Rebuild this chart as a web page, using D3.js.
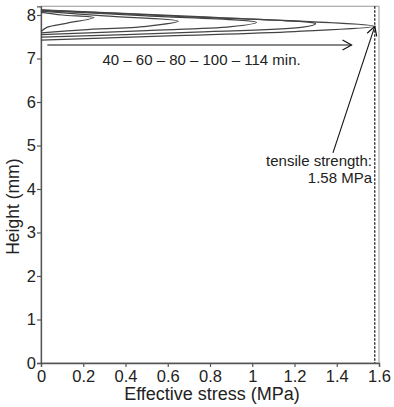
<!DOCTYPE html>
<html>
<head>
<meta charset="utf-8">
<script src="https://cdnjs.cloudflare.com/ajax/libs/d3/7.8.5/d3.min.js"></script>
<style>
  body { margin: 0; background: #fff; }
  text { font-family: "Liberation Sans", Arial, sans-serif; fill: #222; }
</style>
</head>
<body>
<div id="chart"></div>
<script>
// stress profiles (MPa) vs height (mm), one per drying time
const times = ['40', '60', '80', '100', '114'];
const stress40 = [0, 0.1, 0.25, 0.12, 0.03, 0];
const height40 = [8.06, 8.0, 7.94, 7.81, 7.72, 7.62];
const stress60 = [0, 0.3, 0.65, 0.5, 0.2, 0];
const height60 = [8.09, 7.98, 7.86, 7.74, 7.66, 7.59];
const stress80 = [0, 0.5, 1.02, 0.9, 0.5, 0];
const height80 = [8.1, 7.98, 7.83, 7.73, 7.64, 7.55];
const stress100 = [0, 0.65, 1.3, 1.24, 0.7, 0];
const height100 = [8.11, 7.97, 7.8, 7.72, 7.6, 7.49];
const stress114 = [0, 0.8, 1.58, 1.2, 0.6, 0];
const height114 = [8.12, 7.95, 7.74, 7.62, 7.52, 7.42];

const tensileStrength = 1.58;
const xTicks = [0, 0.2, 0.4, 0.6, 0.8, 1, 1.2, 1.4, 1.6];
const yTicks = [0, 1, 2, 3, 4, 5, 6, 7, 8];

const W = 394, H = 407;
const svg = d3.select('#chart').append('svg')
  .attr('width', W)
  .attr('height', H);

const x = d3.scaleLinear().domain([0, 1.6]).range([41, 379]);
const y = d3.scaleLinear().domain([0, 8.2]).range([363, 6.3]);

// frame
svg.append('rect')
  .attr('x', x(0)).attr('y', y(8.2))
  .attr('width', x(1.6) - x(0)).attr('height', y(0) - y(8.2))
  .attr('fill', 'none').attr('stroke', '#aaa').attr('stroke-width', 1.2);

const xAxis = svg.append('g')
  .attr('transform', `translate(0,${y(0)})`)
  .call(d3.axisBottom(x).tickValues(xTicks).tickSize(4).tickFormat(d3.format('')));
const yAxis = svg.append('g')
  .attr('transform', `translate(${x(0)},0)`)
  .call(d3.axisLeft(y).tickValues(yTicks).tickSize(4));

[xAxis, yAxis].forEach(a => {
  a.select('.domain').attr('stroke', '#555').attr('stroke-width', 1.3);
  a.selectAll('.tick line').attr('stroke', '#555').attr('stroke-width', 1.2);
  a.selectAll('.tick text')
    .attr('fill', '#222')
    .style('font-size', '16.5px')
    .style('font-family', '"Liberation Sans", Arial, sans-serif');
});
xAxis.selectAll('.tick text').attr('dy', '0.78em').attr('y', 6);
yAxis.selectAll('.tick text').attr('x', -5);

svg.append('text')
  .attr('x', (x(0) + x(1.6)) / 2 + 2)
  .attr('y', 400)
  .attr('text-anchor', 'middle')
  .style('font-size', '18px')
  .text('Effective stress (MPa)');

svg.append('text')
  .attr('transform', `translate(19,${(y(0) + y(8.2)) / 2 + 22}) rotate(-90)`)
  .attr('text-anchor', 'middle')
  .style('font-size', '17.5px')
  .text('Height (mm)');

// tensile strength line
svg.append('line')
  .attr('x1', x(tensileStrength)).attr('x2', x(tensileStrength))
  .attr('y1', y(8.2)).attr('y2', y(0))
  .attr('stroke', '#111').attr('stroke-width', 1.2)
  .attr('stroke-dasharray', '2.5,1.5');

// profiles
const profiles = [
  [stress40, height40], [stress60, height60], [stress80, height80],
  [stress100, height100], [stress114, height114]
].map(([s, h]) => s.map((v, i) => [v, h[i]]));

const line = d3.line()
  .x(d => x(d[0]))
  .y(d => y(d[1]))
  .curve(d3.curveCatmullRom.alpha(0.5));

svg.append('g')
  .selectAll('path')
  .data(profiles)
  .enter()
  .append('path')
  .attr('d', line)
  .attr('fill', 'none')
  .attr('stroke', '#444')
  .attr('stroke-width', 1.25);

// arrows
const defs = svg.append('defs');
defs.append('marker')
  .attr('id', 'openarrow')
  .attr('viewBox', '-10 -6 12 12')
  .attr('refX', 0)
  .attr('refY', 0)
  .attr('markerWidth', 12)
  .attr('markerHeight', 12)
  .attr('markerUnits', 'userSpaceOnUse')
  .attr('orient', 'auto')
  .append('path')
  .attr('d', 'M -9 -5 L 0 0 L -9 5')
  .attr('fill', 'none')
  .attr('stroke', '#111')
  .attr('stroke-width', 1.2);

svg.append('line')
  .attr('x1', x(0.03)).attr('y1', y(7.31))
  .attr('x2', x(1.47)).attr('y2', y(7.31))
  .attr('stroke', '#111').attr('stroke-width', 1.1)
  .attr('marker-end', 'url(#openarrow)');

svg.append('text')
  .attr('x', x(0.76))
  .attr('y', y(6.85))
  .attr('text-anchor', 'middle')
  .style('font-size', '15px')
  .text(times.join(' \u2013 ') + ' min.');

svg.append('line')
  .attr('x1', x(1.382)).attr('y1', y(4.83))
  .attr('x2', x(tensileStrength)).attr('y2', y(7.74))
  .attr('stroke', '#111').attr('stroke-width', 1.1)
  .attr('marker-end', 'url(#openarrow)');

svg.append('text')
  .attr('x', x(1.567))
  .attr('y', y(4.53))
  .attr('text-anchor', 'end')
  .style('font-size', '15px')
  .text('tensile strength:');
svg.append('text')
  .attr('x', x(1.567))
  .attr('y', y(4.14))
  .attr('text-anchor', 'end')
  .style('font-size', '15px')
  .text('1.58 MPa');
</script>
</body>
</html>
